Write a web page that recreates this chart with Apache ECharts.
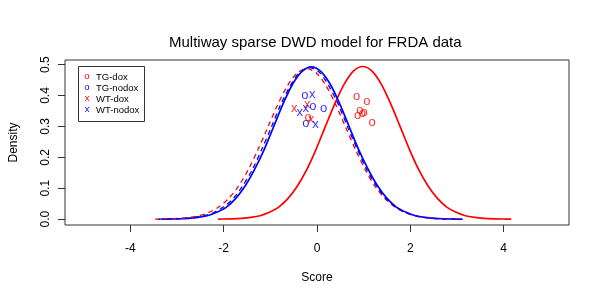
<!DOCTYPE html>
<html>
<head>
<meta charset="utf-8">
<script src="https://cdn.jsdelivr.net/npm/echarts@6/dist/echarts.min.js"></script>
<style>html,body{margin:0;padding:0;background:#fff}#c{width:600px;height:300px}</style>
</head>
<body>
<div id="c"></div>
<script>
// ---- data ----
const xTicks = [-4, -2, 0, 2, 4];
const yTicks = [0, 0.1, 0.2, 0.3, 0.4, 0.5];
const yTickLabels = ['0.0', '0.1', '0.2', '0.3', '0.4', '0.5'];

// TG-dox density (red solid)
const tgDoxCurveX = [-2.12,-2.02,-1.82,-1.62,-1.42,-1.22,-1.02,-0.82,-0.62,-0.42,-0.22,-0.02,0.18,0.38,0.58,0.78,0.98,1.18,1.38,1.58,1.78,1.98,2.18,2.38,2.58,2.78,2.98,3.18,3.38,3.58,3.78,3.98,4.16];
const tgDoxCurveY = [0.0003,0.0004,0.0011,0.0025,0.0055,0.011,0.022,0.039,0.067,0.107,0.160,0.226,0.300,0.373,0.436,0.479,0.494,0.479,0.436,0.373,0.300,0.226,0.160,0.107,0.067,0.039,0.022,0.011,0.0055,0.0025,0.0011,0.0004,0.0002];
// TG-nodox density (blue solid)
const tgNodoxCurveX = [-3.33,-3.16,-2.96,-2.75,-2.55,-2.35,-2.15,-1.94,-1.74,-1.54,-1.34,-1.13,-0.93,-0.73,-0.53,-0.32,-0.12,0.08,0.29,0.49,0.69,0.89,1.10,1.30,1.50,1.70,1.91,2.11,2.31,2.51,2.72,2.92,3.12];
const tgNodoxCurveY = [0.0002,0.0004,0.0011,0.0025,0.0055,0.011,0.022,0.039,0.067,0.107,0.160,0.226,0.299,0.372,0.435,0.478,0.493,0.478,0.435,0.372,0.299,0.226,0.160,0.107,0.067,0.039,0.022,0.011,0.0055,0.0025,0.0011,0.0004,0.0001];
// WT-dox density (red dashed)
const wtDoxCurveX = [-3.47,-3.37,-3.16,-2.95,-2.74,-2.53,-2.32,-2.11,-1.90,-1.69,-1.48,-1.27,-1.06,-0.85,-0.64,-0.43,-0.22,-0.01,0.20,0.41,0.62,0.83,1.04,1.25,1.46,1.67,1.88,2.09,2.30,2.51,2.72,2.93,2.98];
const wtDoxCurveY = [0.0003,0.0004,0.0011,0.0025,0.0054,0.011,0.0214,0.039,0.066,0.105,0.158,0.223,0.295,0.368,0.430,0.472,0.487,0.472,0.430,0.368,0.295,0.223,0.158,0.105,0.066,0.039,0.0214,0.011,0.0054,0.0025,0.0011,0.0004,0.0003];
// WT-nodox density (blue dashed)
const wtNodoxCurveX = [-3.40,-3.24,-3.03,-2.83,-2.62,-2.42,-2.21,-2.01,-1.80,-1.60,-1.39,-1.19,-0.98,-0.78,-0.57,-0.37,-0.16,0.05,0.25,0.46,0.66,0.87,1.07,1.28,1.48,1.69,1.89,2.10,2.30,2.51,2.71,2.92,3.05];
const wtNodoxCurveY = [0.0002,0.0004,0.0011,0.0025,0.0054,0.011,0.0215,0.039,0.066,0.106,0.159,0.224,0.297,0.370,0.432,0.475,0.490,0.475,0.432,0.370,0.297,0.224,0.159,0.106,0.066,0.039,0.0215,0.011,0.0054,0.0025,0.0011,0.0004,0.0003];

// sample scores (x) and plotted heights (y)
const tgDoxPtsX = [0.85,1.07,0.92,1.01,0.87,0.97,1.18,-0.19];
const tgDoxPtsY = [0.393,0.377,0.348,0.340,0.331,0.336,0.309,0.325];
const tgNodoxPtsX = [-0.26,-0.09,0.14,-0.24];
const tgNodoxPtsY = [0.396,0.361,0.354,0.305];
const wtDoxPtsX = [-0.49,-0.21,-0.13];
const wtDoxPtsY = [0.353,0.365,0.318];
const wtNodoxPtsX = [-0.10,-0.37,-0.24,-0.03];
const wtNodoxPtsY = [0.398,0.339,0.352,0.301];

const legendNames = ['TG-dox', 'TG-nodox', 'WT-dox', 'WT-nodox'];
const legendGlyphs = ['o', 'o', 'x', 'x'];

// ---- build chart ----
const RED = '#ff0000', BLUE = '#0000ff';
const FONT = 'Liberation Sans, Arial, Helvetica, sans-serif';
const pairs = (xs, ys) => xs.map((x, i) => [x, ys[i]]);

function curve(name, xs, ys, color, dashed) {
  return {
    name, type: 'line', data: pairs(xs, ys), smooth: 0.3, symbol: 'none',
    lineStyle: { color, width: dashed ? 1.3 : 1.7, type: dashed ? [5, 4] : 'solid' },
    silent: true, z: 2
  };
}
function pts(name, xs, ys, color, glyph) {
  return {
    name, type: 'scatter', data: pairs(xs, ys), symbol: 'circle', symbolSize: 1,
    itemStyle: { color: 'transparent' },
    label: { show: true, position: 'inside', formatter: glyph, color, fontSize: 13,
             fontFamily: FONT, offset: [0, -1.5] },
    silent: true, z: 3
  };
}

const legendColors = [RED, BLUE, RED, BLUE];
const legendGraphic = [{
  type: 'rect', shape: { x: 78.5, y: 66.5, width: 66, height: 55 },
  style: { fill: '#fff', stroke: '#333', lineWidth: 1 }, z: 10
}];
legendNames.forEach((n, i) => {
  const y = 77 + i * 11;
  legendGraphic.push({ type: 'text', x: 87, y: y - 1, z: 11,
    style: { text: legendGlyphs[i], fill: legendColors[i], font: '9.5px ' + FONT, align: 'center', verticalAlign: 'middle' } });
  legendGraphic.push({ type: 'text', x: 96, y: y, z: 11,
    style: { text: n, fill: '#000', font: '9.5px ' + FONT, align: 'left', verticalAlign: 'middle' } });
});

const chart = echarts.init(document.getElementById('c'), null, { renderer: 'canvas' });
chart.setOption({
  animation: false,
  backgroundColor: '#fff',
  title: {
    text: 'Multiway sparse DWD model for FRDA data', left: 164, top: 30,
    textStyle: { fontFamily: FONT, fontSize: 15, fontWeight: 'normal', color: '#000' }
  },
  grid: { left: 59, right: 31, top: 60, bottom: 75, show: true, borderColor: '#333', borderWidth: 1, backgroundColor: 'transparent' },
  xAxis: {
    type: 'value', min: -5.4, max: 5.4,
    name: 'Score', nameLocation: 'middle', nameGap: 47,
    nameTextStyle: { fontFamily: FONT, fontSize: 12, color: '#000' },
    axisLine: { show: false, onZero: false },
    axisTick: { show: true, inside: false, length: 7, lineStyle: { color: '#333' }, customValues: xTicks },
    axisLabel: { customValues: xTicks, margin: 18, fontFamily: FONT, fontSize: 12, color: '#000' },
    splitLine: { show: false }
  },
  yAxis: {
    type: 'value', min: -0.019, max: 0.515,
    name: 'Density', nameLocation: 'middle', nameGap: 45,
    nameTextStyle: { fontFamily: FONT, fontSize: 12, color: '#000' },
    axisLine: { show: false, onZero: false },
    axisTick: { show: true, inside: false, length: 7, lineStyle: { color: '#333' }, customValues: yTicks },
    axisLabel: { customValues: yTicks, rotate: 90, margin: 13, fontFamily: FONT, fontSize: 12, color: '#000',
      formatter: v => { const i = yTicks.findIndex(t => Math.abs(t - v) < 1e-9); return i >= 0 ? yTickLabels[i] : ''; } },
    splitLine: { show: false }
  },
  graphic: legendGraphic,
  series: [
    curve('TG-dox density', tgDoxCurveX, tgDoxCurveY, RED, false),
    curve('TG-nodox density', tgNodoxCurveX, tgNodoxCurveY, BLUE, false),
    curve('WT-dox density', wtDoxCurveX, wtDoxCurveY, RED, true),
    curve('WT-nodox density', wtNodoxCurveX, wtNodoxCurveY, BLUE, true),
    pts('TG-dox', tgDoxPtsX, tgDoxPtsY, RED, 'o'),
    pts('TG-nodox', tgNodoxPtsX, tgNodoxPtsY, BLUE, 'o'),
    pts('WT-dox', wtDoxPtsX, wtDoxPtsY, RED, 'x'),
    pts('WT-nodox', wtNodoxPtsX, wtNodoxPtsY, BLUE, 'x')
  ]
});
</script>
</body>
</html>
